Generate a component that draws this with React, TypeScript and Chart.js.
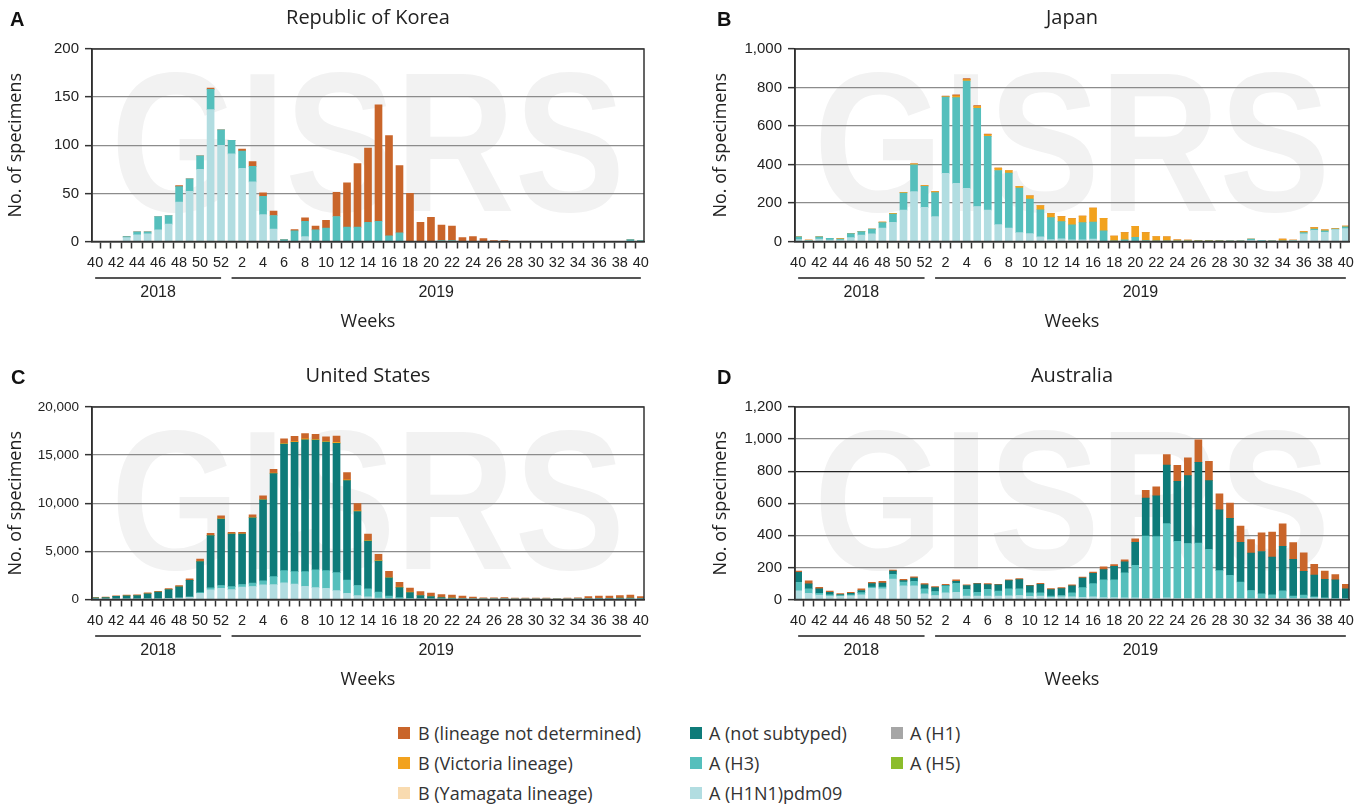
import React, { useEffect, useRef } from 'react';
import { Chart, registerables } from 'chart.js';
Chart.register(...registerables);

// ---------- categories ----------
const weeks = [40, 41, 42, 43, 44, 45, 46, 47, 48, 49, 50, 51, 52, 1, 2, 3, 4, 5, 6, 7, 8, 9, 10, 11, 12, 13, 14, 15, 16, 17, 18, 19, 20, 21, 22, 23, 24, 25, 26, 27, 28, 29, 30, 31, 32, 33, 34, 35, 36, 37, 38, 39, 40];
const xTickLabels = weeks.map((w, i) => (i % 2 === 0 ? String(w) : ''));
const yearGroups = [
  { label: '2018', from: 0, to: 12 },
  { label: '2019', from: 13, to: 52 },
];

// ---------- Republic of Korea ----------
const korH1N1 = [0, 0, 0, 4, 7, 8, 12, 18, 41, 52, 75, 137, 100, 91, 76, 62, 28, 13, 0, 0, 5, 0, 0, 0, 0, 0, 0, 0, 0, 0, 0, 0, 0, 0, 0, 0, 0, 0, 0, 0, 0, 0, 0, 0, 0, 0, 0, 0, 0, 0, 0, 0, 0];
const korH3 = [0, 0, 0, 1, 3, 2, 14, 9, 16, 13, 14, 21, 16, 14, 18, 16, 19, 14, 2, 11, 16, 12, 14, 26, 15, 15, 20, 21, 6, 9, 0, 0, 0, 1, 1, 0, 0, 0, 0, 0, 0, 0, 0, 0, 0, 0, 0, 0, 0, 0, 0, 2, 1];
const korBND = [0, 0, 0, 0, 0, 0, 0, 0, 1, 0, 0, 1.5, 0, 0, 2, 5, 3.5, 4.5, 0, 1.5, 3.7, 4, 8, 25, 46, 66, 77, 121, 104, 70, 50, 20, 25, 16, 15, 4, 5, 3, 1, 1, 0, 0, 0, 0, 0, 0, 0, 0, 0, 0, 0, 0, 0];

// ---------- Japan ----------
const jpH1N1 = [10, 3, 12, 8, 7, 20, 33, 40, 70, 100, 163, 259, 177, 129, 354, 302, 276, 182, 163, 88, 70, 46, 41, 24, 10, 14, 9, 9, 12, 0, 0, 0, 0, 0, 0, 0, 0, 0, 0, 0, 0, 0, 0, 6, 3, 0, 0, 3, 40, 58, 48, 62, 67];
const jpH3 = [14, 2, 12, 9, 6, 21, 18, 24, 28, 43, 89, 139, 109, 125, 396, 445, 557, 510, 383, 281, 285, 232, 179, 141, 114, 89, 77, 89, 89, 55, 3, 9, 22, 5, 2, 2, 1, 1, 1, 1, 1, 1, 1, 6, 3, 1, 2, 2, 6, 7, 7, 2, 9];
const jpVic = [0, 2, 0, 0, 2, 0, 0, 0, 3, 3, 4, 5, 4, 5, 3, 10, 8, 10, 9, 12, 14, 9, 17, 22, 21, 26, 33, 34, 72, 65, 25, 37, 57, 41, 24, 22, 8, 7, 4, 4, 2, 1, 1, 0, 0, 1, 10, 3, 5, 7, 5, 3, 4];
const jpBND = [0, 0, 0, 0, 0, 0, 0, 0, 0, 0, 0, 0, 0, 0, 2, 5, 5, 4, 3, 0, 0, 0, 0, 0, 0, 0, 0, 0, 0, 0, 0, 0, 0, 0, 0, 0, 0, 0, 0, 0, 0, 0, 0, 0, 0, 0, 0, 0, 0, 0, 0, 0, 0];

// ---------- United States ----------
const usH1N1 = [17, 20, 30, 40, 40, 60, 80, 110, 150, 230, 650, 1000, 1170, 1030, 1280, 1350, 1520, 1550, 1725, 1590, 1380, 1240, 1170, 930, 650, 410, 280, 140, 100, 70, 50, 30, 25, 20, 15, 10, 10, 8, 8, 8, 6, 6, 6, 6, 5, 6, 8, 12, 15, 15, 18, 20, 15];
const usH3 = [0, 0, 0, 0, 0, 0, 0, 0, 0, 40, 60, 200, 280, 310, 280, 345, 415, 830, 1275, 1310, 1520, 1830, 1830, 1860, 1380, 1040, 830, 620, 250, 120, 60, 30, 20, 15, 10, 8, 5, 4, 4, 4, 3, 3, 3, 3, 3, 3, 4, 8, 10, 10, 12, 15, 10];
const usANS = [150, 180, 290, 340, 370, 540, 680, 920, 1170, 1720, 3220, 5430, 6895, 5460, 5240, 6795, 8410, 10690, 13150, 13420, 13700, 13490, 13350, 13430, 10320, 7690, 4960, 3240, 1900, 1050, 620, 360, 250, 155, 125, 87, 55, 48, 48, 53, 41, 41, 41, 41, 32, 41, 53, 85, 95, 95, 110, 120, 85];
const usVic = [0, 0, 0, 0, 0, 0, 0, 0, 0, 0, 30, 40, 50, 30, 30, 50, 60, 70, 80, 90, 90, 90, 90, 100, 90, 80, 70, 60, 50, 40, 30, 25, 20, 15, 15, 10, 5, 5, 5, 5, 5, 5, 5, 5, 5, 5, 5, 5, 5, 5, 5, 5, 5];
const usBND = [40, 40, 60, 70, 70, 90, 100, 110, 130, 150, 250, 200, 295, 140, 140, 260, 355, 380, 470, 530, 560, 500, 460, 650, 740, 750, 660, 630, 630, 510, 420, 365, 340, 315, 285, 230, 165, 105, 105, 130, 85, 85, 85, 85, 55, 85, 100, 200, 220, 220, 270, 290, 195];

// ---------- Australia ----------
const auH1N1 = [54, 39, 27, 21, 19, 23, 29, 70, 66, 128, 85, 85, 35, 25, 41, 45, 21, 21, 21, 21, 23, 25, 19, 21, 14, 17, 17, 14, 17, 12, 12, 10, 10, 6, 6, 10, 8, 8, 8, 8, 8, 6, 6, 6, 6, 6, 6, 8, 8, 10, 6, 4, 4];
const auH3 = [53, 27, 12, 8, 6, 6, 14, 8, 12, 29, 24, 28, 31, 25, 44, 56, 43, 24, 43, 31, 43, 41, 22, 20, 7, 8, 24, 60, 82, 110, 110, 157, 203, 390, 386, 463, 355, 341, 343, 304, 172, 145, 103, 50, 29, 23, 48, 13, 19, 7, 4, 4, 0];
const auANS = [62, 31, 27, 16, 6, 10, 13, 21, 25, 20, 9, 21, 25, 24, 4, 12, 23, 52, 29, 39, 52, 58, 44, 54, 41, 43, 44, 60, 64, 64, 84, 68, 144, 236, 254, 365, 374, 423, 504, 429, 379, 355, 248, 233, 264, 235, 278, 229, 148, 136, 116, 114, 62];
const auBND = [8, 19, 10, 7, 6, 6, 10, 8, 11, 7, 8, 8, 8, 6, 6, 9, 4, 4, 6, 4, 4, 6, 4, 6, 6, 6, 6, 6, 8, 18, 11, 13, 21, 49, 56, 66, 99, 111, 140, 120, 99, 95, 101, 85, 116, 157, 139, 105, 116, 66, 51, 33, 29];

// ---------- colours / legend ----------
const COLORS = {
  bnd: '#c9652a',
  vic: '#f2a21e',
  yam: '#f9dbb0',
  ans: '#0e7b79',
  h3: '#55bfbc',
  h1n1: '#b2dde1',
  h1: '#a6a6a6',
  h5: '#8cbd2b',
};

const legendColumns = [
  [
    { label: 'B (lineage not determined)', color: COLORS.bnd },
    { label: 'B (Victoria lineage)', color: COLORS.vic },
    { label: 'B (Yamagata lineage)', color: COLORS.yam },
  ],
  [
    { label: 'A (not subtyped)', color: COLORS.ans },
    { label: 'A (H3)', color: COLORS.h3 },
    { label: 'A (H1N1)pdm09', color: COLORS.h1n1 },
  ],
  [
    { label: 'A (H1)', color: COLORS.h1 },
    { label: 'A (H5)', color: COLORS.h5 },
  ],
];

type Series = { label: string; data: number[]; color: string };
type PanelCfg = {
  letter: string;
  title: string;
  left: number;
  top: number;
  width: number;
  height: number;
  chartLeft: number;
  chartRight: number;
  chartTop: number;
  chartBottom: number;
  yMax: number;
  yStep: number;
  yFont: number;
  letterX: number;
  yTitleX: number;
  darkGrid?: number;
  series: Series[];
};

const panels: PanelCfg[] = [
  {
    letter: 'A', title: 'Republic of Korea', left: 0, top: 0, width: 684, height: 345,
    chartLeft: 92, chartRight: 644, chartTop: 49, chartBottom: 241.5,
    yMax: 200, yStep: 50, yFont: 15, letterX: 10, yTitleX: 16,
    series: [
      { label: 'A (H1N1)pdm09', data: korH1N1, color: COLORS.h1n1 },
      { label: 'A (H3)', data: korH3, color: COLORS.h3 },
      { label: 'B (lineage not determined)', data: korBND, color: COLORS.bnd },
    ],
  },
  {
    letter: 'B', title: 'Japan', left: 684, top: 0, width: 685, height: 345,
    chartLeft: 111, chartRight: 665, chartTop: 49, chartBottom: 241.5,
    yMax: 1000, yStep: 200, yFont: 15, letterX: 33, yTitleX: 37,
    series: [
      { label: 'A (H1N1)pdm09', data: jpH1N1, color: COLORS.h1n1 },
      { label: 'A (H3)', data: jpH3, color: COLORS.h3 },
      { label: 'B (Victoria lineage)', data: jpVic, color: COLORS.vic },
      { label: 'B (lineage not determined)', data: jpBND, color: COLORS.bnd },
    ],
  },
  {
    letter: 'C', title: 'United States', left: 0, top: 358, width: 684, height: 345,
    chartLeft: 92, chartRight: 644, chartTop: 49, chartBottom: 241.5,
    yMax: 20000, yStep: 5000, yFont: 13.5, letterX: 11, yTitleX: 16,
    series: [
      { label: 'A (H1N1)pdm09', data: usH1N1, color: COLORS.h1n1 },
      { label: 'A (H3)', data: usH3, color: COLORS.h3 },
      { label: 'A (not subtyped)', data: usANS, color: COLORS.ans },
      { label: 'B (Victoria lineage)', data: usVic, color: COLORS.vic },
      { label: 'B (lineage not determined)', data: usBND, color: COLORS.bnd },
    ],
  },
  {
    letter: 'D', title: 'Australia', left: 684, top: 358, width: 685, height: 345,
    chartLeft: 111, chartRight: 665, chartTop: 49, chartBottom: 241.5,
    yMax: 1200, yStep: 200, yFont: 15, letterX: 33, yTitleX: 37, darkGrid: 800,
    series: [
      { label: 'A (H1N1)pdm09', data: auH1N1, color: COLORS.h1n1 },
      { label: 'A (H3)', data: auH3, color: COLORS.h3 },
      { label: 'A (not subtyped)', data: auANS, color: COLORS.ans },
      { label: 'B (lineage not determined)', data: auBND, color: COLORS.bnd },
    ],
  },
];

const SANS = '"Open Sans", "Noto Sans", sans-serif';
const ARIAL = '"Liberation Sans", Arial, sans-serif';

function Panel({ cfg }: { cfg: PanelCfg }) {
  const ref = useRef<HTMLCanvasElement>(null);
  useEffect(() => {
    const canvas = ref.current;
    if (!canvas) return;
    const overlay = {
      id: 'overlay' + cfg.letter,
      beforeDraw(chart: any) {
        const { ctx, chartArea: ca } = chart;
        ctx.save();
        ctx.font = `bold 198px ${ARIAL}`;
        const w = ctx.measureText('GISRS').width;
        const target = ca.right - ca.left - 38;
        ctx.translate(ca.left + 19, ca.bottom - 31);
        ctx.scale(target / w, 1);
        ctx.fillStyle = '#f2f2f2';
        ctx.textAlign = 'left';
        ctx.textBaseline = 'alphabetic';
        ctx.fillText('GISRS', 0, 0);
        ctx.restore();
      },
      afterDraw(chart: any) {
        const { ctx, chartArea: ca } = chart;
        const x = chart.scales.x;
        ctx.save();
        ctx.strokeStyle = '#333';
        ctx.lineWidth = 1.5;
        ctx.strokeRect(ca.left, ca.top, ca.right - ca.left, ca.bottom - ca.top);
        // panel letter
        ctx.fillStyle = '#111';
        ctx.font = `bold 20px ${ARIAL}`;
        ctx.textAlign = 'left';
        ctx.textBaseline = 'middle';
        ctx.fillText(cfg.letter, cfg.letterX, 20);
        // title
        ctx.fillStyle = '#222';
        ctx.font = `20px ${SANS}`;
        ctx.textAlign = 'center';
        ctx.fillText(cfg.title, (ca.left + ca.right) / 2, 18);
        // year groups
        ctx.strokeStyle = '#555';
        ctx.lineWidth = 2;
        ctx.font = `16px ${ARIAL}`;
        for (const g of yearGroups) {
          const a = x.getPixelForValue(g.from);
          const b = x.getPixelForValue(g.to);
          ctx.beginPath();
          ctx.moveTo(a, ca.bottom + 36.5);
          ctx.lineTo(b, ca.bottom + 36.5);
          ctx.stroke();
          ctx.fillText(g.label, (a + b) / 2, ca.bottom + 51);
        }
        // x title
        ctx.font = `18px ${SANS}`;
        ctx.fillText('Weeks', (ca.left + ca.right) / 2, ca.bottom + 80);
        // y title
        ctx.translate(cfg.yTitleX, (ca.top + ca.bottom) / 2);
        ctx.rotate(-Math.PI / 2);
        ctx.fillText('No. of specimens', 0, 0);
        ctx.restore();
      },
    };

    const chart = new Chart(canvas, {
      type: 'bar',
      data: {
        datasets: cfg.series.map((s) => ({
          label: s.label,
          data: s.data.map((v, i) => ({ x: i, y: v })),
          backgroundColor: s.color,
          borderWidth: 0,
          barThickness: 7,
        })),
      },
      options: {
        animation: false,
        responsive: false,
        events: [],
        layout: { padding: { top: cfg.chartTop, right: cfg.width - cfg.chartRight, left: 0, bottom: 0 } },
        plugins: { legend: { display: false }, tooltip: { enabled: false }, title: { display: false } },
        scales: {
          x: {
            type: 'linear',
            min: -0.3,
            max: 52.3,
            stacked: true,
            offset: false,
            afterBuildTicks: (s: any) => {
              s.ticks = weeks.map((_, i) => ({ value: i }));
            },
            afterFit: (s: any) => {
              s.height = cfg.height - cfg.chartBottom;
            },
            ticks: {
              autoSkip: false,
              maxRotation: 0,
              minRotation: 0,
              padding: 6,
              color: '#222',
              font: { family: ARIAL, size: 14.5 },
              callback: (v: any) => xTickLabels[Math.round(Number(v))] ?? '',
            },
            grid: { drawOnChartArea: false, drawTicks: true, tickLength: 7, tickColor: '#333', tickWidth: 1.5 },
            border: { display: true, color: '#222', width: 1.5 },
          },
          y: {
            type: 'linear',
            min: 0,
            max: cfg.yMax,
            stacked: true,
            afterFit: (s: any) => {
              s.width = cfg.chartLeft;
            },
            ticks: {
              stepSize: cfg.yStep,
              padding: 6,
              color: '#222',
              font: { family: ARIAL, size: cfg.yFont },
              callback: (v: any) => Number(v).toLocaleString('en-US'),
            },
            grid: {
              color: (c: any) => (cfg.darkGrid !== undefined && c.tick && c.tick.value === cfg.darkGrid ? '#222' : '#8c8c8c'),
              lineWidth: 1.3,
              tickLength: 7,
              tickColor: '#333',
              tickWidth: 1.5,
            },
            border: { display: true, color: '#222', width: 1.5 },
          },
        },
      } as any,
      plugins: [overlay],
    });
    return () => chart.destroy();
  }, [cfg]);

  return (
    <canvas
      ref={ref}
      width={cfg.width}
      height={cfg.height}
      style={{ position: 'absolute', left: cfg.left, top: cfg.top, width: cfg.width, height: cfg.height }}
    />
  );
}

const legendX = [{ sq: 398, text: 418 }, { sq: 690, text: 709 }, { sq: 891, text: 910 }];
const legendRowY = [733, 763, 793];

export default function App() {
  return (
    <div style={{ position: 'absolute', left: 0, top: 0, width: 1369, height: 806, background: '#fff', overflow: 'hidden' }}>
      {panels.map((p) => (
        <Panel key={p.letter} cfg={p} />
      ))}
      {legendColumns.map((col, ci) =>
        col.map((item, ri) => (
          <div key={ci + '-' + ri}>
            <div
              style={{
                position: 'absolute',
                left: legendX[ci].sq,
                top: legendRowY[ri] - 6,
                width: 12,
                height: 12,
                background: item.color,
              }}
            />
            <div
              style={{
                position: 'absolute',
                left: legendX[ci].text,
                top: legendRowY[ri] - 13,
                height: 26,
                lineHeight: '26px',
                fontFamily: SANS,
                fontSize: 18,
                color: '#333',
                whiteSpace: 'nowrap',
              }}
            >
              {item.label}
            </div>
          </div>
        ))
      )}
    </div>
  );
}
